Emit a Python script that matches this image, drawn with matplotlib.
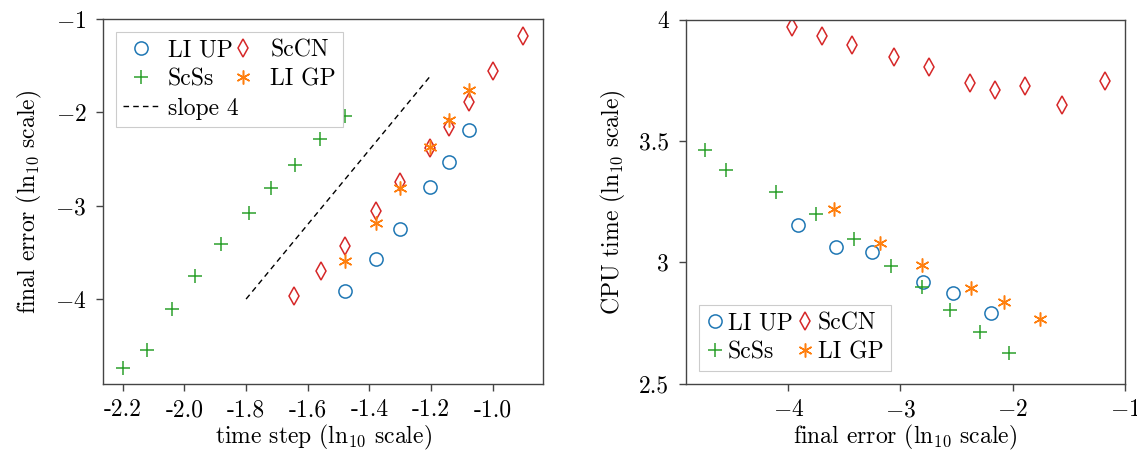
import matplotlib
matplotlib.use("Agg")
import matplotlib.pyplot as plt

plt.rcParams['font.family'] = 'serif'
plt.rcParams['font.serif'] = ['cmr10', 'DejaVu Serif']
plt.rcParams['mathtext.fontset'] = 'cm'
plt.rcParams['axes.formatter.use_mathtext'] = True
plt.rcParams['axes.unicode_minus'] = True

FS = 17

# ---- data (log10 values) ----
ts_scss = [-2.20, -2.12, -2.04, -1.965, -1.88, -1.79, -1.72, -1.64, -1.56, -1.48]
err_scss = [-4.74, -4.55, -4.11, -3.75, -3.41, -3.08, -2.81, -2.56, -2.29, -2.035]
cpu_scss = [3.464, 3.381, 3.290, 3.198, 3.098, 2.984, 2.90, 2.804, 2.712, 2.628]

ts_sccn = [-1.643, -1.556, -1.478, -1.38, -1.30, -1.203, -1.143, -1.077, -0.998, -0.903]
err_sccn = [-3.97, -3.70, -3.43, -3.06, -2.75, -2.38, -2.16, -1.89, -1.56, -1.18]
cpu_sccn = [3.971, 3.934, 3.894, 3.848, 3.804, 3.741, 3.709, 3.727, 3.650, 3.747]

ts_up = [-1.478, -1.38, -1.30, -1.203, -1.143, -1.077]
err_up = [-3.91, -3.575, -3.25, -2.80, -2.53, -2.19]
cpu_up = [3.153, 3.063, 3.044, 2.918, 2.874, 2.791]

ts_gp = [-1.478, -1.38, -1.30, -1.203, -1.143, -1.077]
err_gp = [-3.59, -3.18, -2.81, -2.37, -2.08, -1.76]
cpu_gp = [3.218, 3.08, 2.99, 2.896, 2.836, 2.768]

slope_x = [-1.8, -1.2]
slope_y = [-4.0, -1.6]

left_xticks = [-2.2, -2.0, -1.8, -1.6, -1.4, -1.2, -1.0]
left_xticklabels = ['-2.2', '-2.0', '-1.8', '-1.6', '-1.4', '-1.2', '-1.0']
left_yticks = [-4, -3, -2, -1]
right_xticks = [-4, -3, -2, -1]
right_yticks = [2.5, 3, 3.5, 4]
right_yticklabels = ['2.5', '3', '3.5', '4']

C_UP = '#1f77b4'
C_CN = '#d62728'
C_SS = '#2ca02c'
C_GP = '#ff7f0e'
AST = (6, 2, 0)

fig = plt.figure(figsize=(11.37, 4.51), dpi=100)
ax1 = fig.add_axes([0.0906, 0.1486, 0.387, 0.809])
ax2 = fig.add_axes([0.603, 0.1492, 0.3864, 0.807])

def style(ax):
    for s in ax.spines.values():
        s.set_color('#444444')
        s.set_linewidth(1.0)
    ax.tick_params(direction='out', length=5, width=1, color='#444444',
                   labelsize=FS, top=False, right=False)
    ax.tick_params(axis='x', pad=6)
    ax.tick_params(axis='y', pad=7)

# ---- left ----
h_up, = ax1.plot(ts_up, err_up, 'o', ms=9.5, mfc='none', mec=C_UP, mew=1.1, ls='none', label='LI UP')
h_ss, = ax1.plot(ts_scss, err_scss, '+', ms=10, color=C_SS, mew=1.1, ls='none', label='ScSs')
h_cn, = ax1.plot(ts_sccn, err_sccn, 'd', ms=9, mfc='none', mec=C_CN, mew=1.1, ls='none', label='ScCN')
h_gp, = ax1.plot(ts_gp, err_gp, marker=AST, ms=10, color=C_GP, mew=1.1, ls='none', label='LI GP')
h_sl, = ax1.plot(slope_x, slope_y, '--', color='black', lw=1.0, dashes=(4, 3), label='slope 4')

ax1.set_xlim(-2.264, -0.837)
ax1.set_ylim(-4.91, -1.0)
ax1.set_xticks(left_xticks)
ax1.set_xticklabels(left_xticklabels)
ax1.set_yticks(left_yticks)
ax1.set_xlabel('time step (ln$_{10}$ scale)', fontsize=FS, labelpad=1)
ax1.set_ylabel('final error (ln$_{10}$ scale)', fontsize=FS, labelpad=8)
style(ax1)
leg1 = ax1.legend(handles=[h_up, h_ss, h_sl, h_cn, h_gp], ncol=2, loc='upper left',
                  fontsize=FS, fancybox=False, edgecolor='#cccccc', framealpha=1,
                  handlelength=1.5, handletextpad=0.4, columnspacing=-0.55,
                  borderaxespad=0.55, labelspacing=0.3, borderpad=0.3)
leg1.get_frame().set_linewidth(0.8)

# ---- right ----
g_up, = ax2.plot(err_up, cpu_up, 'o', ms=9.5, mfc='none', mec=C_UP, mew=1.1, ls='none', label='LI UP')
g_ss, = ax2.plot(err_scss, cpu_scss, '+', ms=10, color=C_SS, mew=1.1, ls='none', label='ScSs')
g_cn, = ax2.plot(err_sccn, cpu_sccn, 'd', ms=9, mfc='none', mec=C_CN, mew=1.1, ls='none', label='ScCN')
g_gp, = ax2.plot(err_gp, cpu_gp, marker=AST, ms=10, color=C_GP, mew=1.1, ls='none', label='LI GP')

ax2.set_xlim(-4.914, -1.0)
ax2.set_ylim(2.5, 4.0)
ax2.set_xticks(right_xticks)
ax2.set_yticks(right_yticks)
ax2.set_yticklabels(right_yticklabels)
ax2.set_xlabel('final error (ln$_{10}$ scale)', fontsize=FS, labelpad=1)
ax2.set_ylabel('CPU time (ln$_{10}$ scale)', fontsize=FS, labelpad=8)
style(ax2)
leg2 = ax2.legend(handles=[g_up, g_ss, g_cn, g_gp], ncol=2, loc='lower left',
                  fontsize=FS, fancybox=False, edgecolor='#cccccc', framealpha=1,
                  handlelength=0.8, handletextpad=0.15, columnspacing=0.1,
                  borderaxespad=0.55, labelspacing=0.3, borderpad=0.3)
leg2.get_frame().set_linewidth(0.8)

fig.savefig('out.png', dpi=100)
